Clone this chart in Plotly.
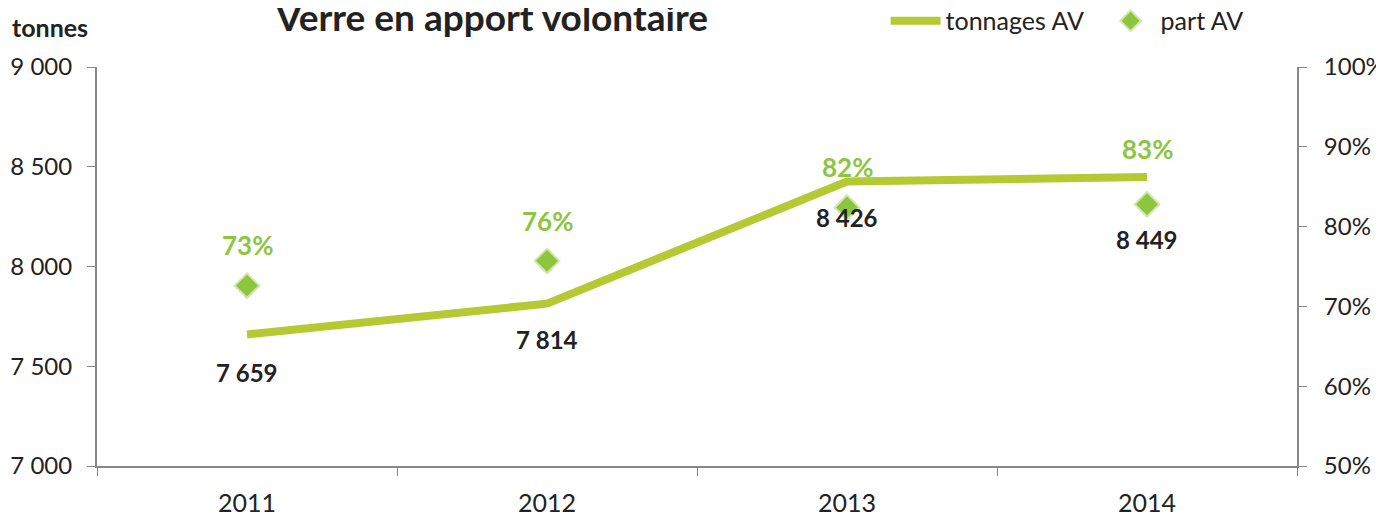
import plotly.graph_objects as go

years = [2011, 2012, 2013, 2014]
year_labels = ["2011", "2012", "2013", "2014"]
tonnages = [7659, 7814, 8426, 8449]
part_av = [72.6, 75.7, 82.4, 82.8]
part_labels = ["73%", "76%", "82%", "83%"]
tonnage_labels = ["7 659", "7 814", "8 426", "8 449"]
tonnage_label_shift = [-38, -36, -36, -63]
part_label_shift = [41, 40, 40, 55]

left_ticks = [7000, 7500, 8000, 8500, 9000]
left_ticktext = ["7 000", "7 500", "8 000", "8 500", "9 000"]
right_ticks = [50, 60, 70, 80, 90, 100]
right_ticktext = ["50%", "60%", "70%", "80%", "90%", "100%"]

FONT = "Lato"
LINE_C = "#B5C933"
DIAM_C = "#8CC63F"
AX_C = "#888888"
TXT_C = "#222222"

fig = go.Figure()
fig.add_trace(go.Scatter(x=years, y=tonnages, mode="lines", name="tonnages AV",
                         line=dict(color=LINE_C, width=8), yaxis="y"))
fig.add_trace(go.Scatter(x=years, y=part_av, mode="markers", name="part AV",
                         marker=dict(symbol="diamond", size=19, color=DIAM_C,
                                     line=dict(color="#D6E4B0", width=2)),
                         yaxis="y2"))

ann = []
for x, y, t, s in zip(years, tonnages, tonnage_labels, tonnage_label_shift):
    ann.append(dict(x=x, y=y, xref="x", yref="y", text=f"<b>{t}</b>", showarrow=False,
                    yshift=s, font=dict(family=FONT, size=24, color=TXT_C)))
for x, y, t, s in zip(years, part_av, part_labels, part_label_shift):
    ann.append(dict(x=x, y=y, xref="x", yref="y2", text=f"<b>{t}</b>", showarrow=False,
                    yshift=s, font=dict(family=FONT, size=26, color=DIAM_C)))
ann.append(dict(x=-0.0725, y=1.100, xref="paper", yref="paper", text="<b>tonnes</b>",
                showarrow=False, xanchor="left", yanchor="middle",
                font=dict(family=FONT, size=25, color=TXT_C)))
ann.append(dict(x=0.329, y=1.1255, xref="paper", yref="paper", text="<b>Verre en apport volontaire</b>",
                showarrow=False, xanchor="center", yanchor="middle",
                font=dict(family=FONT, size=37, color=TXT_C)))

fig.update_layout(
    width=1384, height=515,
    margin=dict(l=89, r=95, t=59, b=57),
    paper_bgcolor="white", plot_bgcolor="white",
    font=dict(family=FONT, size=24, color=TXT_C),
    showlegend=True,
    legend=dict(orientation="h", xref="container", yref="container", x=0.6341, y=0.9748,
                xanchor="left", yanchor="middle", entrywidth=150,
                font=dict(family=FONT, size=25, color=TXT_C), itemwidth=50,
                bgcolor="rgba(0,0,0,0)"),
    annotations=ann,
    xaxis=dict(range=[2010.5, 2014.5], tickvals=years, ticktext=year_labels,
               ticks="", showline=True, linecolor=AX_C, linewidth=2, automargin=False,
               showgrid=False, zeroline=False, tickfont=dict(size=25), ticklabelstandoff=14,
               minor=dict(tick0=2010.5, dtick=1, ticks="outside", ticklen=8,
                          tickcolor=AX_C, tickwidth=1, showgrid=False)),
    yaxis=dict(range=[7000, 9000], tickvals=left_ticks, ticktext=left_ticktext,
               ticks="outside", ticklen=8, tickcolor=AX_C, showline=True, automargin=False,
               linecolor=AX_C, linewidth=2, showgrid=False, zeroline=False,
               tickfont=dict(size=24), ticklabelstandoff=10),
    yaxis2=dict(range=[50, 100], tickvals=right_ticks, ticktext=right_ticktext,
                overlaying="y", side="right", ticks="outside", ticklen=8, automargin=False,
                tickcolor=AX_C, showline=True, linecolor=AX_C, linewidth=2,
                showgrid=False, zeroline=False, tickfont=dict(size=24), ticklabelstandoff=12),
)
fig.write_html("out.html")
